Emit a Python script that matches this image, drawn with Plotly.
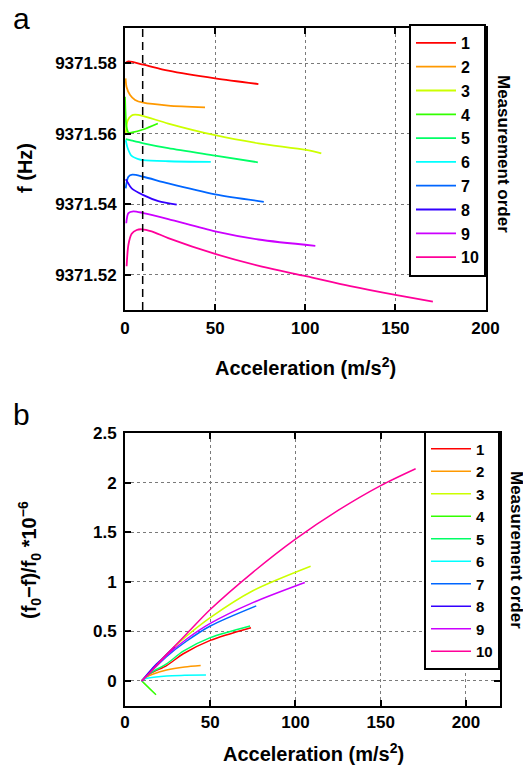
import plotly.graph_objects as go

# page body has an 8px margin, so the figure is drawn 8px in from the corner
OFF = 8
W, H = 531 - OFF, 765 - OFF

series_names = ["1", "2", "3", "4", "5", "6", "7", "8", "9", "10"]
colors = ["#FF0000", "#FF9900", "#CCFF00", "#33FF00", "#00FF66",
          "#00FFFF", "#0066FF", "#3300FF", "#CC00FF", "#FF0099"]

# ---- panel a : frequency vs acceleration ----
a_x1 = [0, 1.9, 10.2, 24, 50, 74]
a_y1 = [9371.5800, 9371.5805, 9371.5796, 9371.5779, 9371.5757, 9371.5741]
a_x2 = [0.3, 0.9, 2.8, 5.6, 10.2, 24, 44.4]
a_y2 = [9371.5757, 9371.5732, 9371.5710, 9371.5696, 9371.5688, 9371.5680, 9371.5675]
a_x3 = [0.4, 1.5, 3.7, 5.6, 10.2, 24, 50, 74, 100.4, 108.9]
a_y3 = [9371.5600, 9371.5638, 9371.5652, 9371.5654, 9371.5650, 9371.5629, 9371.5596, 9371.5573, 9371.5554, 9371.5544]
a_x4 = [0, 0.3, 0.8, 2, 4, 10, 18.2]
a_y4 = [9371.5705, 9371.5660, 9371.5620, 9371.5603, 9371.5604, 9371.5612, 9371.5629]
a_x5 = [0.4, 2.8, 10.2, 24, 50, 73.7]
a_y5 = [9371.5585, 9371.5582, 9371.5573, 9371.5559, 9371.5538, 9371.5519]
a_x6 = [0.4, 1.5, 3.7, 7.4, 10.2, 24, 47.6]
a_y6 = [9371.5582, 9371.5559, 9371.5537, 9371.5528, 9371.5525, 9371.5522, 9371.5520]
a_x7 = [0.4, 1.9, 4.1, 10.2, 24, 50, 77]
a_y7 = [9371.5445, 9371.5478, 9371.5484, 9371.5478, 9371.5459, 9371.5428, 9371.5407]
a_x8 = [0.4, 1.5, 3.7, 10.2, 18.5, 28.7]
a_y8 = [9371.5471, 9371.5462, 9371.5445, 9371.5426, 9371.5409, 9371.5399]
a_x9 = [0.7, 1.9, 4.6, 10.2, 24, 50, 74, 105.6]
a_y9 = [9371.5346, 9371.5375, 9371.5380, 9371.5375, 9371.5358, 9371.5323, 9371.5300, 9371.5282]
a_x10 = [0.9, 1.9, 3.7, 6.5, 9.3, 14.8, 24, 50, 76, 100.4, 125, 150, 170.8]
a_y10 = [9371.5224, 9371.5285, 9371.5316, 9371.5327, 9371.5329, 9371.5323, 9371.5304, 9371.5259, 9371.5223, 9371.5196, 9371.5168, 9371.5143, 9371.5124]

# ---- panel b : relative frequency shift ----
b_x1 = [9.81, 15, 24.4, 34.2, 50, 73.9]
b_y1 = [0, 0.075, 0.155, 0.274, 0.409, 0.537]
b_x2 = [9.81, 12, 16.6, 24.4, 35, 44.4]
b_y2 = [0, 0.035, 0.07, 0.11, 0.14, 0.155]
b_x3 = [9.81, 15, 24, 36, 50, 75, 108.9]
b_y3 = [0, 0.09, 0.26, 0.45, 0.638, 0.909, 1.156]
b_x4 = [9.81, 14, 18.2]
b_y4 = [0, -0.07, -0.14]
b_x5 = [9.81, 15, 24.4, 34.2, 50, 73.4]
b_y5 = [0, 0.08, 0.172, 0.30, 0.436, 0.554]
b_x6 = [9.81, 11.5, 13.7, 24.4, 35, 47.5]
b_y6 = [0, 0.02, 0.03, 0.05, 0.056, 0.06]
b_x7 = [9.81, 15, 24, 36, 50, 77]
b_y7 = [0, 0.09, 0.24, 0.40, 0.554, 0.757]
b_x8 = [9.81, 14.7, 18.6, 24, 29.3]
b_y8 = [0, 0.10, 0.172, 0.26, 0.348]
b_x9 = [9.81, 15, 24, 36, 50, 75, 105.5]
b_y9 = [0, 0.09, 0.25, 0.42, 0.58, 0.79, 0.993]
b_x10 = [9.81, 15, 24, 36.2, 50, 75, 100, 125, 150, 170.5]
b_y10 = [0, 0.09, 0.26, 0.476, 0.72, 1.095, 1.43, 1.72, 1.97, 2.14]

g_accel = 9.81

a_xs = [a_x1, a_x2, a_x3, a_x4, a_x5, a_x6, a_x7, a_x8, a_x9, a_x10]
a_ys = [a_y1, a_y2, a_y3, a_y4, a_y5, a_y6, a_y7, a_y8, a_y9, a_y10]
b_xs = [b_x1, b_x2, b_x3, b_x4, b_x5, b_x6, b_x7, b_x8, b_x9, b_x10]
b_ys = [b_y1, b_y2, b_y3, b_y4, b_y5, b_y6, b_y7, b_y8, b_y9, b_y10]

FONT = "Liberation Sans, Arial, Helvetica, sans-serif"

fig = go.Figure()
for i in range(10):
    fig.add_trace(go.Scatter(
        x=a_xs[i], y=a_ys[i], mode="lines", name=series_names[i],
        line=dict(color=colors[i], width=1.8, shape="spline", smoothing=0.8),
        xaxis="x", yaxis="y", legend="legend"))
for i in range(10):
    fig.add_trace(go.Scatter(
        x=b_xs[i], y=b_ys[i], mode="lines", name=series_names[i],
        line=dict(color=colors[i], width=1.5, shape="spline", smoothing=0.8),
        xaxis="x2", yaxis="y2", legend="legend2"))


def px_x(p):
    return (p - OFF) / W


def px_y(p):
    return 1 - (p - OFF) / H


tickfont = dict(family=FONT, size=17, color="black", weight="bold")
axis_common = dict(
    showline=True, linewidth=2, linecolor="black", mirror="ticks",
    ticks="inside", ticklen=6, tickwidth=1.5, tickcolor="black",
    showgrid=True, gridcolor="#7a7a7a", gridwidth=1, griddash="dot",
    zeroline=False, tickfont=tickfont, automargin=False,
)

fig.update_layout(
    template="none",
    width=W, height=H, autosize=False,
    margin=dict(l=0, r=0, t=0, b=0, pad=0, autoexpand=False),
    paper_bgcolor="white", plot_bgcolor="white",
    font=dict(family=FONT, color="black"),
    xaxis=dict(domain=[px_x(125), px_x(485.5)], range=[0, 200],
               tickvals=[0, 50, 100, 150, 200], anchor="y",
               ticklabelstandoff=2, **axis_common),
    yaxis=dict(domain=[px_y(310), px_y(28)], range=[9371.51, 9371.59],
               tickvals=[9371.52, 9371.54, 9371.56, 9371.58], tickformat=".2f",
               anchor="x", ticklabelstandoff=3, **axis_common),
    xaxis2=dict(domain=[px_x(125), px_x(500)], range=[0, 220],
                tickvals=[0, 50, 100, 150, 200], anchor="y2", **axis_common),
    yaxis2=dict(domain=[px_y(705.7), px_y(433)], range=[-0.25, 2.5],
                tickvals=[0, 0.5, 1, 1.5, 2, 2.5],
                ticktext=["0", "0.5", "1", "1.5", "2", "2.5"],
                anchor="x2", ticklabelstandoff=3, **axis_common),
    legend=dict(x=px_x(486), y=px_y(24), xanchor="right", yanchor="top",
                bgcolor="white", bordercolor="black", borderwidth=2,
                itemwidth=40,
                font=dict(family=FONT, size=16, color="black", weight="bold")),
    legend2=dict(x=px_x(500), y=px_y(430.5), xanchor="right", yanchor="top",
                 bgcolor="white", bordercolor="black", borderwidth=2,
                 itemwidth=40,
                 font=dict(family=FONT, size=15, color="black", weight="bold")),
    showlegend=True,
)

fig.add_shape(type="line", xref="x", yref="y domain", x0=g_accel, x1=g_accel,
              y0=0, y1=1, line=dict(color="black", width=1.5, dash="8px,5px"))

title_font = dict(family=FONT, size=20, color="black", weight="bold")
side_font = dict(family=FONT, size=17, color="black", weight="bold")
ann = [
    dict(text="a", x=px_x(21), y=px_y(18), font=dict(family=FONT, size=30, color="black")),
    dict(text="b", x=px_x(21), y=px_y(414), font=dict(family=FONT, size=30, color="black")),
    dict(text="f (Hz)", x=px_x(25), y=px_y(168), textangle=-90, font=title_font),
    dict(text="(f<sub>0</sub>−f)/f<sub>0</sub> *10<sup>−6</sup>", x=px_x(29), y=px_y(560),
         textangle=-90, font=title_font),
    dict(text="Acceleration (m/s<sup>2</sup>)", x=px_x(305), y=px_y(366), font=title_font),
    dict(text="Acceleration (m/s<sup>2</sup>)", x=px_x(313), y=px_y(752), font=title_font),
    dict(text="Measurement order", x=px_x(503), y=px_y(154), textangle=90, font=side_font),
    dict(text="Measurement order", x=px_x(517), y=px_y(550), textangle=90, font=side_font),
]
for a in ann:
    fig.add_annotation(xref="paper", yref="paper", showarrow=False,
                       xanchor="center", yanchor="middle", **a)

fig.write_html("out.html")
